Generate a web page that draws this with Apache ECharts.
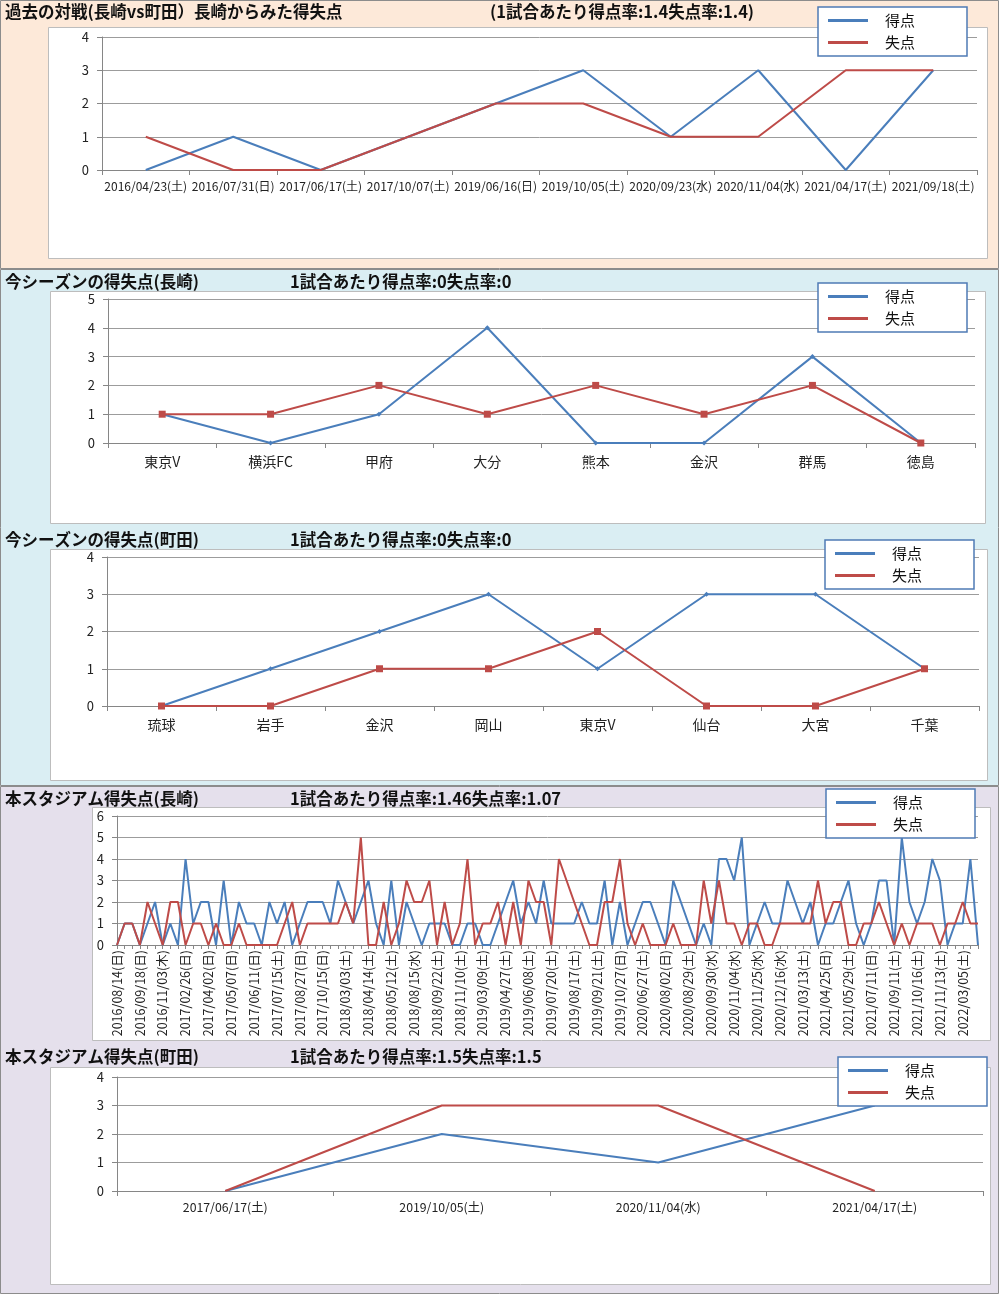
<!DOCTYPE html>
<html>
<head>
<meta charset="utf-8">
<script src="https://cdn.jsdelivr.net/npm/echarts@6/dist/echarts.min.js"></script>
<style>
  html, body { margin: 0; padding: 0; background: #fff; }
  #main { width: 1000px; height: 1295px; }
</style>
</head>
<body>
<div id="main"></div>
<script>
// 過去の対戦(長崎vs町田)
var matchDates = ['2016/04/23(土)', '2016/07/31(日)', '2017/06/17(土)', '2017/10/07(土)', '2019/06/16(日)',
  '2019/10/05(土)', '2020/09/23(水)', '2020/11/04(水)', '2021/04/17(土)', '2021/09/18(土)'];
var matchFor = [0, 1, 0, 1, 2, 3, 1, 3, 0, 3];
var matchAgainst = [1, 0, 0, 1, 2, 2, 1, 1, 3, 3];

// 今シーズン(長崎)
var nagasakiTeams = ['東京V', '横浜FC', '甲府', '大分', '熊本', '金沢', '群馬', '徳島'];
var nagasakiFor = [1, 0, 1, 4, 0, 0, 3, 0];
var nagasakiAgainst = [1, 1, 2, 1, 2, 1, 2, 0];

// 今シーズン(町田)
var machidaTeams = ['琉球', '岩手', '金沢', '岡山', '東京V', '仙台', '大宮', '千葉'];
var machidaFor = [0, 1, 2, 3, 1, 3, 3, 1];
var machidaAgainst = [0, 0, 1, 1, 2, 0, 0, 1];

// 本スタジアム(長崎) ラベルは3試合ごと
var homeDates = ['2016/08/14(日)', '2016/09/18(日)', '2016/11/03(木)', '2017/02/26(日)', '2017/04/02(日)',
  '2017/05/07(日)', '2017/06/11(日)', '2017/07/15(土)', '2017/08/27(日)', '2017/10/15(日)',
  '2018/03/03(土)', '2018/04/14(土)', '2018/05/12(土)', '2018/08/15(水)', '2018/09/22(土)',
  '2018/11/10(土)', '2019/03/09(土)', '2019/04/27(土)', '2019/06/08(土)', '2019/07/20(土)',
  '2019/08/17(土)', '2019/09/21(土)', '2019/10/27(日)', '2020/06/27(土)', '2020/08/02(日)',
  '2020/08/29(土)', '2020/09/30(水)', '2020/11/04(水)', '2020/11/25(水)', '2020/12/16(水)',
  '2021/03/13(土)', '2021/04/25(日)', '2021/05/29(土)', '2021/07/11(日)', '2021/09/11(土)',
  '2021/10/16(土)', '2021/11/13(土)', '2022/03/05(土)'];
var homeFor = [0, 1, 1, 0, 1, 2, 0, 1, 0, 4,
  1, 2, 2, 0, 3, 0, 2, 1, 1, 0,
  2, 1, 2, 0, 1, 2, 2, 2, 1, 3,
  2, 1, 2, 3, 1, 0, 3, 0, 2, 1,
  0, 1, 1, 1, 0, 0, 1, 1, 0, 0,
  1, 2, 3, 1, 2, 1, 3, 1, 1, 1,
  1, 2, 1, 1, 3, 0, 2, 0, 1, 2,
  2, 1, 0, 3, 2, 1, 0, 1, 0, 4,
  4, 3, 5, 0, 1, 2, 1, 1, 3, 2,
  1, 2, 0, 1, 1, 2, 3, 1, 0, 1,
  3, 3, 0, 5, 2, 1, 2, 4, 3, 0,
  1, 1, 4, 0];
var homeAgainst = [0, 1, 1, 0, 2, 1, 0, 2, 2, 0,
  1, 1, 0, 1, 0, 0, 1, 0, 0, 0,
  0, 0, 1, 2, 0, 1, 1, 1, 1, 1,
  2, 1, 5, 0, 0, 2, 0, 1, 3, 2,
  2, 3, 0, 2, 0, 1, 4, 0, 1, 1,
  2, 0, 2, 0, 3, 2, 2, 0, 4, 3,
  2, 1, 0, 0, 2, 2, 4, 1, 0, 1,
  0, 0, 0, 1, 0, 0, 0, 3, 1, 3,
  1, 1, 0, 1, 1, 0, 0, 1, 1, 1,
  1, 1, 3, 1, 2, 2, 0, 0, 1, 1,
  2, 1, 0, 1, 0, 1, 1, 1, 0, 1,
  1, 2, 1, 1];
var homeGames = homeFor.map(function (v, i) { return String(i + 1); });

// 本スタジアム(町田)
var awayDates = ['2017/06/17(土)', '2019/10/05(土)', '2020/11/04(水)', '2021/04/17(土)'];
var awayFor = [0, 2, 1, 3];
var awayAgainst = [0, 3, 3, 0];

var titles = [
  ['過去の対戦(長崎vs町田）長崎からみた得失点', '(1試合あたり得点率:1.4失点率:1.4)', 3, 490],
  ['今シーズンの得失点(長崎)', '1試合あたり得点率:0失点率:0', 273, 290],
  ['今シーズンの得失点(町田)', '1試合あたり得点率:0失点率:0', 531, 290],
  ['本スタジアム得失点(長崎)', '1試合あたり得点率:1.46失点率:1.07', 790, 290],
  ['本スタジアム得失点(町田)', '1試合あたり得点率:1.5失点率:1.5', 1048, 290]
];

var FONT = '"Noto Sans CJK JP", sans-serif';
var BLUE = '#4a7ebb';
var RED = '#be4b48';

var chartDom = document.getElementById('main');
var myChart = echarts.init(chartDom);

var titleList = [];
titles.forEach(function (t) {
  titleList.push({ text: t[0], left: 5, top: t[2], padding: 0,
    textStyle: { fontFamily: FONT, fontSize: 16.5, fontWeight: 'bold', color: '#111' } });
  titleList.push({ text: t[1], left: t[3], top: t[2], padding: 0,
    textStyle: { fontFamily: FONT, fontSize: 16.5, fontWeight: 'bold', color: '#111' } });
});

function legendAt(left, top) {
  return {
    left: left, top: top, orient: 'vertical',
    data: ['得点', '失点'],
    icon: 'rect', itemWidth: 40, itemHeight: 3, itemGap: 7,
    padding: [6, 52, 6, 10],
    backgroundColor: '#fff', borderColor: '#4f7bb5', borderWidth: 1.5,
    selectedMode: false,
    textStyle: { fontFamily: FONT, fontSize: 15, color: '#111', padding: [0, 0, 0, 12] }
  };
}

function xCat(grid, data, opt) {
  var a = {
    type: 'category', gridIndex: grid, data: data, boundaryGap: true,
    axisLine: { lineStyle: { color: '#868686' } },
    axisTick: { show: true, length: 5, lineStyle: { color: '#868686' } },
    axisLabel: { fontFamily: FONT, fontSize: 11, color: '#222', margin: 10, interval: 0 },
    splitLine: { show: false }
  };
  return Object.assign(a, opt || {});
}

function yVal(grid, max) {
  return {
    type: 'value', gridIndex: grid, min: 0, max: max, interval: 1,
    axisLine: { show: true, lineStyle: { color: '#868686' } },
    axisTick: { show: true, length: 5, lineStyle: { color: '#868686' } },
    axisLabel: { fontFamily: FONT, fontSize: 13, color: '#222', margin: 13 },
    splitLine: { lineStyle: { color: '#9c9c9c' } }
  };
}

function line(name, grid, data, color, symbol, size) {
  return {
    name: name, type: 'line', xAxisIndex: grid, yAxisIndex: grid, data: data,
    symbol: symbol || 'none', symbolSize: size || 0, showSymbol: !!symbol,
    lineStyle: { color: color, width: 2 }, itemStyle: { color: color },
    animation: false
  };
}

var option = {
  animation: false,
  graphic: [
    { type: 'rect', z: -10, shape: { x: 0.5, y: 0.5, width: 998, height: 268 }, style: { fill: '#fde9d9', stroke: '#8c8c8c' } },
    { type: 'rect', z: -10, shape: { x: 0.5, y: 269.5, width: 998, height: 516 }, style: { fill: '#daeef3', stroke: '#8c8c8c' } },
    { type: 'rect', z: -10, shape: { x: 0.5, y: 786.5, width: 998, height: 507 }, style: { fill: '#e5e0ec', stroke: '#8c8c8c' } },
    { type: 'rect', z: -9, shape: { x: 48.5, y: 27.5, width: 939, height: 231 }, style: { fill: '#fff', stroke: '#bdbdbd' } },
    { type: 'rect', z: -9, shape: { x: 50.5, y: 291.5, width: 935, height: 232 }, style: { fill: '#fff', stroke: '#bdbdbd' } },
    { type: 'rect', z: -9, shape: { x: 50.5, y: 549.5, width: 937, height: 231 }, style: { fill: '#fff', stroke: '#bdbdbd' } },
    { type: 'rect', z: -9, shape: { x: 92.5, y: 807.5, width: 898, height: 233 }, style: { fill: '#fff', stroke: '#bdbdbd' } },
    { type: 'rect', z: -9, shape: { x: 50.5, y: 1067.5, width: 940, height: 217 }, style: { fill: '#fff', stroke: '#bdbdbd' } }
  ],
  title: titleList,
  legend: [legendAt(818, 7), legendAt(818, 283), legendAt(825, 540), legendAt(826, 789), legendAt(838, 1057)],
  grid: [
    { left: 102, top: 37, width: 875, height: 133 },
    { left: 108, top: 299, width: 867, height: 144 },
    { left: 107, top: 557, width: 872, height: 149 },
    { left: 117, top: 816, width: 861, height: 129 },
    { left: 117, top: 1077, width: 866, height: 114 }
  ],
  xAxis: [
    xCat(0, matchDates, { axisLabel: { fontFamily: FONT, fontSize: 12, color: '#222', margin: 10, interval: 0 } }),
    xCat(1, nagasakiTeams, { axisLabel: { fontFamily: FONT, fontSize: 14, color: '#222', margin: 12, interval: 0 } }),
    xCat(2, machidaTeams, { axisLabel: { fontFamily: FONT, fontSize: 14, color: '#222', margin: 12, interval: 0 } }),
    xCat(3, homeGames, {
      boundaryGap: false,
      axisTick: { show: true, length: 4, interval: 0, lineStyle: { color: '#868686' } },
      axisLabel: {
        fontFamily: FONT, fontSize: 12.5, color: '#222', margin: 5, interval: 2, rotate: 90,
        formatter: function (v, i) { return homeDates[i / 3] || ''; }
      }
    }),
    xCat(4, awayDates, { axisLabel: { fontFamily: FONT, fontSize: 12.3, color: '#222', margin: 10, interval: 0 } })
  ],
  yAxis: [yVal(0, 4), yVal(1, 5), yVal(2, 4), yVal(3, 6), yVal(4, 4)],
  series: [
    line('得点', 0, matchFor, BLUE),
    line('失点', 0, matchAgainst, RED),
    line('得点', 1, nagasakiFor, BLUE, 'diamond', 5),
    line('失点', 1, nagasakiAgainst, RED, 'rect', 7),
    line('得点', 2, machidaFor, BLUE, 'diamond', 5),
    line('失点', 2, machidaAgainst, RED, 'rect', 7),
    line('得点', 3, homeFor, BLUE),
    line('失点', 3, homeAgainst, RED),
    line('得点', 4, awayFor, BLUE),
    line('失点', 4, awayAgainst, RED)
  ]
};
myChart.setOption(option);
</script>
</body>
</html>
